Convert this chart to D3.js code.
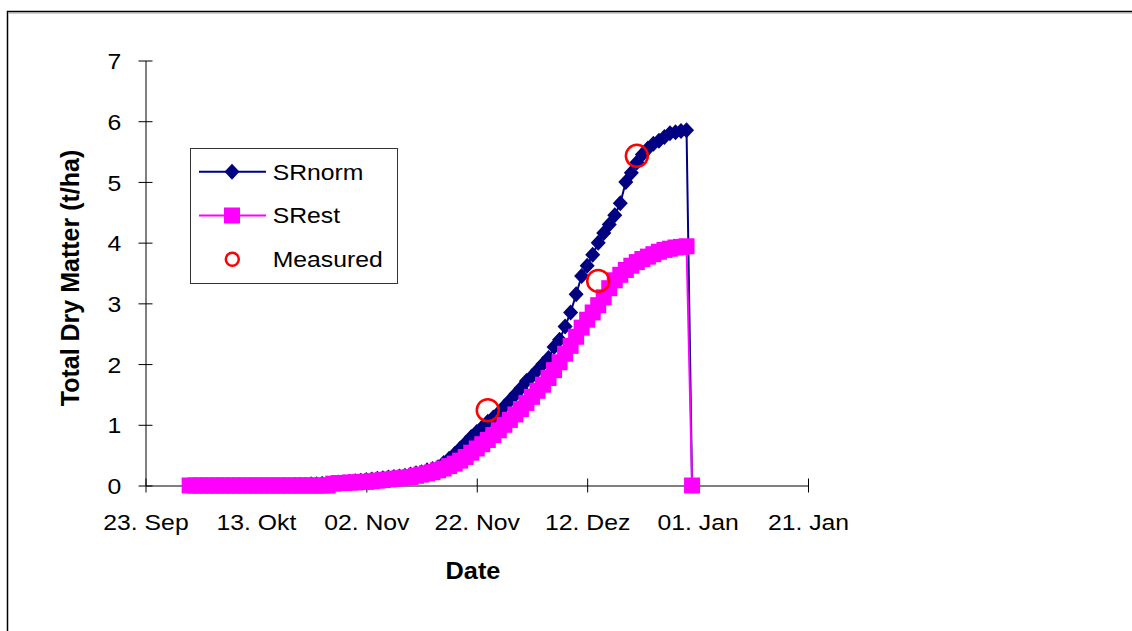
<!DOCTYPE html>
<html><head><meta charset="utf-8">
<script src="https://cdn.jsdelivr.net/npm/d3@7"></script>
<style>
body{margin:0;background:#fff}
svg{display:block}
text{font-family:"Liberation Sans",Arial,sans-serif;fill:#000}
</style>
</head><body>
<svg id="c" width="1132" height="631"></svg>
<script>
// ---- data ----
const firstDay = "2001-10-01"; // daily values start here
const srnorm = [
  0,0,0,0,0,0,0,0,0,0,0,0,0,0,0,0,0,0,0,              // 01.10 - 19.10
  0.01,0.01,0.01,0.02,0.02,0.03,0.03,0.04,0.05,0.05,  // 20.10 - 29.10
  0.06,0.07,0.08,0.09,0.10,0.11,0.12,0.13,0.14,0.15,  // 30.10 - 08.11
  0.16,0.18,0.20,0.22,0.25,0.27,0.30,0.37,0.44,0.52,  // 09.11 - 18.11
  0.61,0.70,0.80,0.88,0.96,1.05,1.12,1.20,1.30,1.40,  // 19.11 - 28.11
  1.50,1.60,1.72,1.80,1.90,2.00,2.10,2.28,2.40,2.62,  // 29.11 - 08.12
  2.85,3.15,3.45,3.62,3.80,4.00,4.16,4.30,4.45,4.65,  // 09.12 - 18.12
  5.00,5.15,5.32,5.45,5.55,5.63,5.68,5.74,5.80,5.82,  // 19.12 - 28.12
  5.84,5.85,0                                         // 29.12 - 31.12
];
const srest = [
  0,0,0,0,0,0,0,0,0,0,0,0,0,0,0,0,0,0,0,0,0,0,0,0,0,0, // 01.10 - 26.10
  0.03,0.04,0.04,0.05,0.05,0.06,0.06,0.07,0.08,0.09,  // 27.10 - 05.11
  0.10,0.11,0.12,0.13,0.14,0.16,0.18,0.20,0.22,0.25,  // 06.11 - 15.11
  0.28,0.32,0.36,0.41,0.47,0.54,0.61,0.68,0.75,0.83,  // 16.11 - 25.11
  0.91,1.00,1.08,1.17,1.26,1.36,1.46,1.56,1.66,1.77,  // 26.11 - 05.12
  1.90,2.03,2.17,2.30,2.45,2.60,2.73,2.85,2.97,3.10,  // 06.12 - 15.12
  3.25,3.38,3.47,3.55,3.62,3.68,3.73,3.77,3.81,3.85,  // 16.12 - 25.12
  3.88,3.90,3.92,3.93,3.94,0                          // 26.12 - 31.12
];
const measuredDates = ["2001-11-24","2001-12-14","2001-12-21"];
const measuredValues = [1.24, 3.37, 5.43];
const xTickDates = ["2001-09-23","2001-10-13","2001-11-02","2001-11-22","2001-12-12","2002-01-01","2002-01-21"];
const xTickLabels = ["23. Sep","13. Okt","02. Nov","22. Nov","12. Dez","01. Jan","21. Jan"];
const yTicks = [0,1,2,3,4,5,6,7];
const seriesNames = ["SRnorm","SRest","Measured"];
const seriesColors = ["#000080","#FF00FF","#FF0000"];

// ---- setup ----
const parse = d3.utcParse("%Y-%m-%d");
const start = parse(firstDay);
const normData = srnorm.map((v,i)=>({d:d3.utcDay.offset(start,i), v}));
const estData  = srest.map((v,i)=>({d:d3.utcDay.offset(start,i), v}));
const measData = measuredDates.map((s,i)=>({d:parse(s), v:measuredValues[i]}));
const tickDates = xTickDates.map(parse);

const svg = d3.select("#c");
const X0 = 145.5, X1 = 808, Y0 = 485.5, Y1 = 60.5;
const x = d3.scaleUtc().domain([tickDates[0], tickDates[tickDates.length-1]]).range([X0, X1]);
const y = d3.scaleLinear().domain([0,7]).range([Y0, Y1]);

const FS = 22.5, SX = 1.1;

// outer frame
svg.append("rect").attr("x",7.5).attr("y",11.5).attr("width",1200).attr("height",700)
  .attr("fill","none").attr("stroke","#000").attr("stroke-width",1.5);
svg.append("line").attr("x1",9).attr("x2",1132).attr("y1",13).attr("y2",13)
  .attr("stroke","#999").attr("stroke-width",1);

// axes
const xAxis = d3.axisBottom(x).tickValues(tickDates)
  .tickFormat((d,i)=>xTickLabels[i]).tickSize(7).tickSizeOuter(0);
const gx = svg.append("g").attr("transform",`translate(0,${Y0})`).call(xAxis);
gx.select(".domain").attr("stroke","#000").attr("stroke-width",1);
gx.selectAll(".tick line").attr("y1",-7).attr("y2",7).attr("stroke","#000");
gx.selectAll(".tick text").attr("y",44.5).attr("dy",0)
  .style("font-size",FS+"px").attr("transform",`scale(${SX},1)`);

const yAxis = d3.axisLeft(y).tickValues(yTicks).tickFormat(d3.format("d")).tickSize(7).tickSizeOuter(0);
const gy = svg.append("g").attr("transform",`translate(${X0},0)`).call(yAxis);
gy.select(".domain").attr("stroke","#000").attr("stroke-width",1);
gy.selectAll(".tick line").attr("x1",-7).attr("x2",7).attr("stroke","#000");
gy.selectAll(".tick text").attr("x",-22).attr("dy","0.36em")
  .style("font-size",FS+"px").attr("transform",`scale(${SX},1)`);

// axis titles
svg.append("text").attr("transform",`translate(70,278) rotate(-90)`)
  .attr("text-anchor","middle").attr("dy","0.36em")
  .style("font-size","25px").style("font-weight","bold").text("Total Dry Matter (t/ha)");
svg.append("text").attr("transform",`translate(473,579) scale(${SX},1)`)
  .attr("text-anchor","middle")
  .style("font-size","23px").style("font-weight","bold").text("Date");

// marker shapes
const diamond = (cx,cy,w=7.5,h=8)=>`M${cx},${cy-h}L${cx+w},${cy}L${cx},${cy+h}L${cx-w},${cy}Z`;
const line = d3.line().x(d=>x(d.d)).y(d=>y(d.v));

// SRnorm
const gN = svg.append("g");
gN.append("path").datum(normData).attr("d",line).attr("fill","none")
  .attr("stroke",seriesColors[0]).attr("stroke-width",2);
gN.selectAll("path.m").data(normData).join("path").attr("class","m")
  .attr("d",d=>diamond(x(d.d),y(d.v))).attr("fill",seriesColors[0]);

// SRest
const gE = svg.append("g");
gE.append("path").datum(estData).attr("d",line).attr("fill","none")
  .attr("stroke",seriesColors[1]).attr("stroke-width",2);
gE.selectAll("rect").data(estData).join("rect")
  .attr("x",d=>x(d.d)-8).attr("y",d=>y(d.v)-8).attr("width",16).attr("height",16)
  .attr("fill",seriesColors[1]);

// Measured
svg.append("g").selectAll("circle").data(measData).join("circle")
  .attr("cx",d=>x(d.d)).attr("cy",d=>y(d.v)).attr("r",11)
  .attr("fill","none").attr("stroke",seriesColors[2]).attr("stroke-width",2.5);

// legend
const lg = svg.append("g");
lg.append("rect").attr("x",190.5).attr("y",148.5).attr("width",207).attr("height",135)
  .attr("fill","#fff").attr("stroke","#333").attr("stroke-width",1);
const rowsY = [171.7, 215.5, 259.3];
seriesNames.forEach((name,i)=>{
  const cy = rowsY[i];
  if(i<2){
    lg.append("line").attr("x1",199).attr("x2",266).attr("y1",cy).attr("y2",cy)
      .attr("stroke",seriesColors[i]).attr("stroke-width",2);
  }
  if(i===0) lg.append("path").attr("d",diamond(232,cy)).attr("fill",seriesColors[0]);
  if(i===1) lg.append("rect").attr("x",224).attr("y",cy-8).attr("width",16).attr("height",16).attr("fill",seriesColors[1]);
  if(i===2) lg.append("circle").attr("cx",232.3).attr("cy",cy).attr("r",6.5)
      .attr("fill","none").attr("stroke",seriesColors[2]).attr("stroke-width",2.5);
  lg.append("text").attr("transform",`translate(272.7,${cy+7.8}) scale(${SX},1)`)
    .style("font-size",FS+"px").text(name);
});
</script>
</body></html>
